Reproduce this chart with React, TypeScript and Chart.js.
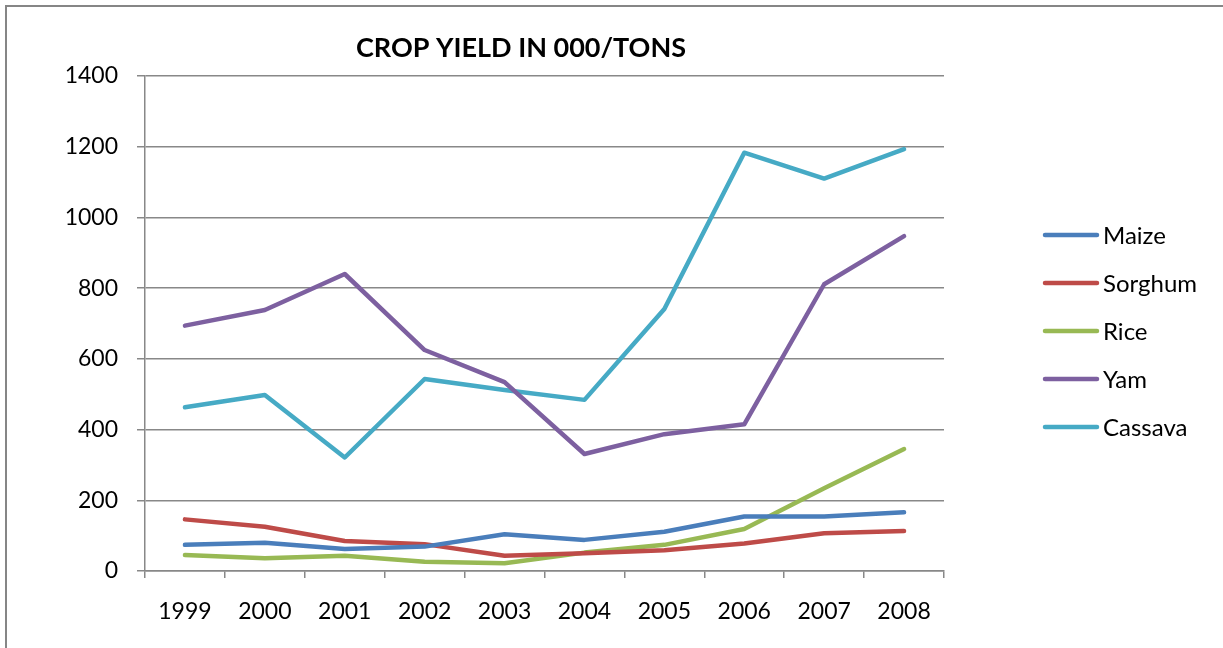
import React, { useEffect, useRef } from "react";
import { Chart, registerables } from "chart.js";

Chart.register(...registerables);

const years = ["1999", "2000", "2001", "2002", "2003", "2004", "2005", "2006", "2007", "2008"];
const maize = [74, 80, 62, 69, 104, 88, 111, 154, 154, 166];
const sorghum = [146, 125, 85, 76, 43, 50, 59, 78, 107, 113];
const rice = [45, 36, 43, 26, 22, 52, 74, 119, 234, 345];
const yam = [694, 738, 840, 625, 534, 331, 387, 415, 811, 947];
const cassava = [463, 498, 321, 543, 512, 484, 741, 1183, 1110, 1193];

const seriesNames = ["Maize", "Sorghum", "Rice", "Yam", "Cassava"];
const seriesColors = ["#4A7EBB", "#BE4B48", "#98B954", "#7D60A0", "#46AAC5"];
const titleText = "CROP YIELD IN 000/TONS";

const FONT = "Lato, 'Open Sans', sans-serif";

export default function App() {
  const ref = useRef<HTMLCanvasElement | null>(null);

  useEffect(() => {
    document.body.style.margin = "0";
    const canvas = ref.current;
    if (!canvas) return;
    const values = [maize, sorghum, rice, yam, cassava];

    const decor = {
      id: "decor",
      beforeDraw(chart: any) {
        const ctx = chart.ctx;
        ctx.save();
        ctx.fillStyle = "#ffffff";
        ctx.fillRect(0, 0, chart.width, chart.height);
        ctx.strokeStyle = "#868686";
        ctx.lineWidth = 2;
        ctx.beginPath();
        ctx.moveTo(6, chart.height);
        ctx.lineTo(6, 6);
        ctx.lineTo(chart.width, 6);
        ctx.stroke();
        ctx.restore();
      },
      afterDraw(chart: any) {
        const ctx = chart.ctx;
        ctx.save();
        ctx.fillStyle = "#000000";
        ctx.font = `bold 27px ${FONT}`;
        ctx.textAlign = "center";
        ctx.textBaseline = "middle";
        ctx.fillText(titleText, 521, 48);
        // legend
        ctx.font = `24px ${FONT}`;
        ctx.textAlign = "left";
        chart.data.datasets.forEach((ds: any, i: number) => {
          const y = 235 + i * 48;
          ctx.strokeStyle = ds.borderColor;
          ctx.lineWidth = 4.5;
          ctx.lineCap = "round";
          ctx.beginPath();
          ctx.moveTo(1045, y);
          ctx.lineTo(1097, y);
          ctx.stroke();
          ctx.fillStyle = "#000000";
          ctx.fillText(ds.label, 1103, y + 1);
        });
        ctx.restore();
      },
    };

    const chart = new Chart(canvas, {
      type: "line",
      data: {
        labels: years,
        datasets: seriesNames.map((n, i) => ({
          label: n,
          data: values[i],
          borderColor: seriesColors[i],
          backgroundColor: seriesColors[i],
          borderWidth: 4.5,
          pointRadius: 0,
          tension: 0,
          borderCapStyle: "round" as const,
          borderJoinStyle: "round" as const,
          fill: false,
        })),
      },
      options: {
        animation: false,
        responsive: false,
        maintainAspectRatio: false,
        devicePixelRatio: 1,
        layout: { padding: { left: 0, right: 279, top: 76, bottom: 0 } },
        plugins: {
          legend: { display: false },
          title: { display: false },
          tooltip: { enabled: false },
        },
        scales: {
          x: {
            offset: true,
            grid: {
              offset: true,
              drawOnChartArea: false,
              drawTicks: true,
              tickLength: 7,
              color: "#888888",
              lineWidth: 1.5,
            },
            border: { display: true, color: "#888888", width: 1.5 },
            ticks: {
              color: "#000000",
              font: { family: FONT, size: 23 },
              padding: 20,
              maxRotation: 0,
              autoSkip: false,
            },
            afterFit: (s: any) => {
              s.height = 77;
            },
          },
          y: {
            min: 0,
            max: 1400,
            ticks: {
              stepSize: 200,
              color: "#000000",
              font: { family: FONT, size: 23 },
              padding: 19,
              callback: (v: any) => String(v),
            },
            grid: {
              color: "#888888",
              lineWidth: 1.5,
              tickLength: 8,
            },
            border: { display: true, color: "#888888", width: 1.5 },
            afterFit: (s: any) => {
              s.width = 145;
            },
          },
        },
      },
      plugins: [decor],
    });
    return () => chart.destroy();
  }, []);

  return (
    <div style={{ position: "fixed", left: 0, top: 0, width: 1223, height: 648, background: "#fff" }}>
      <canvas ref={ref} width={1223} height={648} style={{ width: 1223, height: 648, display: "block" }} />
    </div>
  );
}
